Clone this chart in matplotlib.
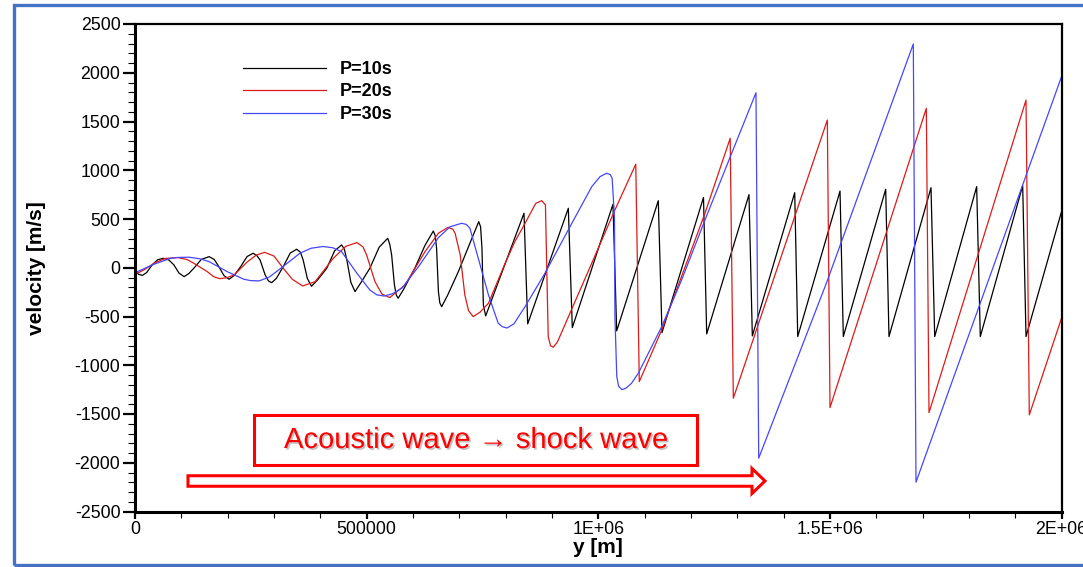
import matplotlib
matplotlib.use("Agg")
import matplotlib.pyplot as plt
import matplotlib.patches as patches
import matplotlib.patheffects as pe
from matplotlib.ticker import AutoMinorLocator

plt.rcParams['font.family'] = ['Liberation Sans', 'DejaVu Sans']

# position y in units of 1E+06 m, velocity in m/s
y_p10 = [0.000, 0.008, 0.016, 0.025, 0.037, 0.049, 0.061, 0.073, 0.084, 0.095,
         0.106, 0.116, 0.127, 0.143, 0.160, 0.171, 0.181, 0.192, 0.203, 0.214,
         0.228, 0.242, 0.255, 0.263, 0.270, 0.281, 0.288, 0.295, 0.305, 0.320,
         0.335, 0.349, 0.357, 0.363, 0.372, 0.381, 0.395, 0.414, 0.431, 0.446,
         0.452, 0.458, 0.466, 0.475, 0.488, 0.507, 0.527, 0.5455, 0.550, 0.554,
         0.560, 0.564, 0.568, 0.580, 0.604, 0.626, 0.644, 0.648, 0.651, 0.655,
         0.658, 0.662, 0.675, 0.698, 0.742, 0.746, 0.749, 0.752, 0.757,
         0.8397, 0.8477, 0.9354, 0.944, 1.0318, 1.0398, 1.1296, 1.1376,
         1.2272, 1.2341, 1.3254, 1.3326, 1.4241, 1.4306, 1.5219, 1.529,
         1.6205, 1.6276, 1.7183, 1.7263, 1.8169, 1.8247, 1.9162, 1.9234, 2.0]
v_p10 = [-35, -68, -78, -50, 29, 82, 97, 80, 29, -55,
         -91, -60, -5, 85, 114, 85, 11, -80, -118, -80,
         11, 115, 149, 125, 80, -74, -135, -153, -110, 11,
         150, 190, 160, 80, -110, -190, -120, -5, 175, 234,
         190, 63, -150, -245, -150, -5, 210, 302, 240, 131,
         -176, -280, -313, -220, -5, 230, 377, 330, 200, -245,
         -360, -399, -280, -40, 473, 420, 200, -381, -494,
         559, -576, 610, -614, 651, -648, 688, -665,
         721, -679, 750, -699, 770, -706, 787, -706,
         805, -706, 821, -706, 832, -706, 842, -706, 575]

y_p20 = [0.000, 0.005, 0.020, 0.041, 0.065, 0.092, 0.112, 0.127, 0.156, 0.170,
         0.183, 0.198, 0.214, 0.243, 0.262, 0.280, 0.300, 0.320, 0.340, 0.362,
         0.389, 0.428, 0.455, 0.479, 0.492, 0.500, 0.518, 0.533, 0.550, 0.583,
         0.626, 0.655, 0.676, 0.686, 0.691, 0.702, 0.712, 0.720, 0.730, 0.745,
         0.763, 0.799, 0.820, 0.842, 0.865, 0.878, 0.886, 0.888, 0.892, 0.897,
         0.903, 0.912, 1.036, 1.081, 1.0886, 1.137, 1.2304, 1.2848, 1.2916,
         1.4945, 1.5003, 1.7082, 1.714, 1.9234, 1.9305, 2.0]
v_p20 = [-35, -57, -20, 46, 95, 105, 85, 46, -40, -92,
         -112, -102, -74, 63, 130, 158, 120, -5, -120, -187,
         -142, 97, 220, 258, 215, 131, -142, -270, -306, -176,
         165, 354, 415, 395, 354, 131, -279, -440, -501, -455,
         -364, 46, 268, 456, 660, 688, 644, 183, -706, -800,
         -815, -760, 593, 1062, -1168, -638, 559, 1328, -1338,
         1515, -1434, 1635, -1486, 1720, -1509, -518]

y_p30 = [0.000, 0.005, 0.041, 0.077, 0.095, 0.117, 0.140, 0.160, 0.199, 0.235,
         0.250, 0.268, 0.290, 0.313, 0.356, 0.380, 0.406, 0.427, 0.446, 0.479,
         0.507, 0.522, 0.538, 0.555, 0.576, 0.612, 0.655, 0.680, 0.705, 0.715,
         0.723, 0.741, 0.763, 0.784, 0.793, 0.803, 0.818, 0.842, 0.885, 0.943,
         0.986, 1.004, 1.018, 1.026, 1.030, 1.035, 1.036, 1.040, 1.044, 1.051,
         1.060, 1.072, 1.0865, 1.137, 1.180, 1.2304, 1.288, 1.3405, 1.3464,
         1.4931, 1.6801, 1.6859, 2.0]
v_p30 = [-35, -40, 36, 97, 106, 108, 92, 63, -40, -118,
         -132, -135, -95, -12, 149, 200, 218, 205, 165, -56,
         -228, -278, -290, -268, -210, 11, 309, 420, 456, 445,
         405, 97, -279, -569, -605, -618, -575, -399, -56, 456,
         832, 935, 969, 955, 918, 524, -501, -1117, -1215, -1250,
         -1235, -1184, -1082, -604, -125, 490, 1174, 1795, -1953,
         -150, 2295, -2199, 1959]

labels = ["P=10s", "P=20s", "P=30s"]
colors = ["black", "#dd1a1a", "#4646ff"]

xtick_pos = [0, 500000, 1000000, 1500000, 2000000]
xtick_lab = ["0", "500000", "1E+06", "1.5E+06", "2E+06"]
ytick_pos = [-2500, -2000, -1500, -1000, -500, 0, 500, 1000, 1500, 2000, 2500]

W, H = 1083, 567
fig = plt.figure(figsize=(W / 100, H / 100), dpi=100)
ax = fig.add_axes([135 / W, 1 - 511.5 / H, (1061.5 - 135) / W, (511.5 - 24) / H])


def fpos(x, y):
    # pixel position -> figure fraction
    return x / W, 1 - y / H


for ys, vs, lab, col in zip([y_p10, y_p20, y_p30], [v_p10, v_p20, v_p30], labels, colors):
    ax.plot([y * 1e6 for y in ys], vs, color=col, lw=0.9, label=lab)

ax.set_xlim(0, 2e6)
ax.set_ylim(-2500, 2500)
ax.set_xticks(xtick_pos, labels=xtick_lab)
ax.set_yticks(ytick_pos, labels=[str(v) for v in ytick_pos])
ax.xaxis.set_minor_locator(AutoMinorLocator(5))
ax.yaxis.set_minor_locator(AutoMinorLocator(5))
ax.tick_params(axis='y', which='major', direction='out', length=8.5, width=1.6, pad=2, labelsize=12.8)
ax.tick_params(axis='y', which='minor', direction='out', length=5, width=0.8)
ax.tick_params(axis='x', which='major', direction='out', length=5, width=1.6, pad=2, labelsize=12.8)
ax.tick_params(axis='x', which='minor', direction='out', length=4.5, width=0.8)
for side in ['left', 'bottom']:
    ax.spines[side].set_linewidth(2.2)
for side in ['top', 'right']:
    ax.spines[side].set_linewidth(1.6)

ax.set_xlabel("y [m]", fontsize=15, fontweight='bold', labelpad=0)
ax.set_ylabel("velocity [m/s]", fontsize=15, fontweight='bold')
ax.yaxis.set_label_coords((46 - 135) / (1061.5 - 135), 0.5)

leg = ax.legend(loc='upper left', bbox_to_anchor=fpos(243, 61), bbox_transform=fig.transFigure,
                frameon=False, borderpad=0, borderaxespad=0, handlelength=4.6,
                handletextpad=0.75, labelspacing=0.3,
                prop={'size': 13, 'weight': 'bold'})

# annotation box and hollow arrow
x0, y0 = fpos(254, 465)
x1, y1 = fpos(697, 415)
box = patches.Rectangle((x0, y0), x1 - x0, y1 - y0, transform=fig.transFigure,
                        facecolor='white', edgecolor='#ff0000', lw=2.2)
fig.add_artist(box)
tx, ty = fpos(476, 440)
fig.text(tx, ty, "Acoustic wave \u2192 shock wave", color='#ff0000', fontsize=21,
         ha='center', va='center',
         path_effects=[pe.SimplePatchShadow(offset=(1.2, -1.2), shadow_rgbFace='#888888', alpha=0.5),
                       pe.Normal()])

ax0, ay0 = fpos(188, 481)
ax1, _ = fpos(765, 481)
arrow = patches.FancyArrow(ax0, ay0, ax1 - ax0, 0, width=10.5 / H, head_width=25 / H,
                           head_length=13 / W, length_includes_head=True,
                           transform=fig.transFigure, facecolor='white',
                           edgecolor='#ff0000', lw=2.2)
fig.add_artist(arrow)

# slide frame
fx, fy = fpos(14, 565)
frame = patches.Rectangle((fx, fy), (1100 - 14) / W, (565 - 5) / H, transform=fig.transFigure,
                          fill=False, edgecolor='#4472c4', lw=2.4, clip_on=False)
fig.add_artist(frame)

fig.savefig("out.png", dpi=100)
